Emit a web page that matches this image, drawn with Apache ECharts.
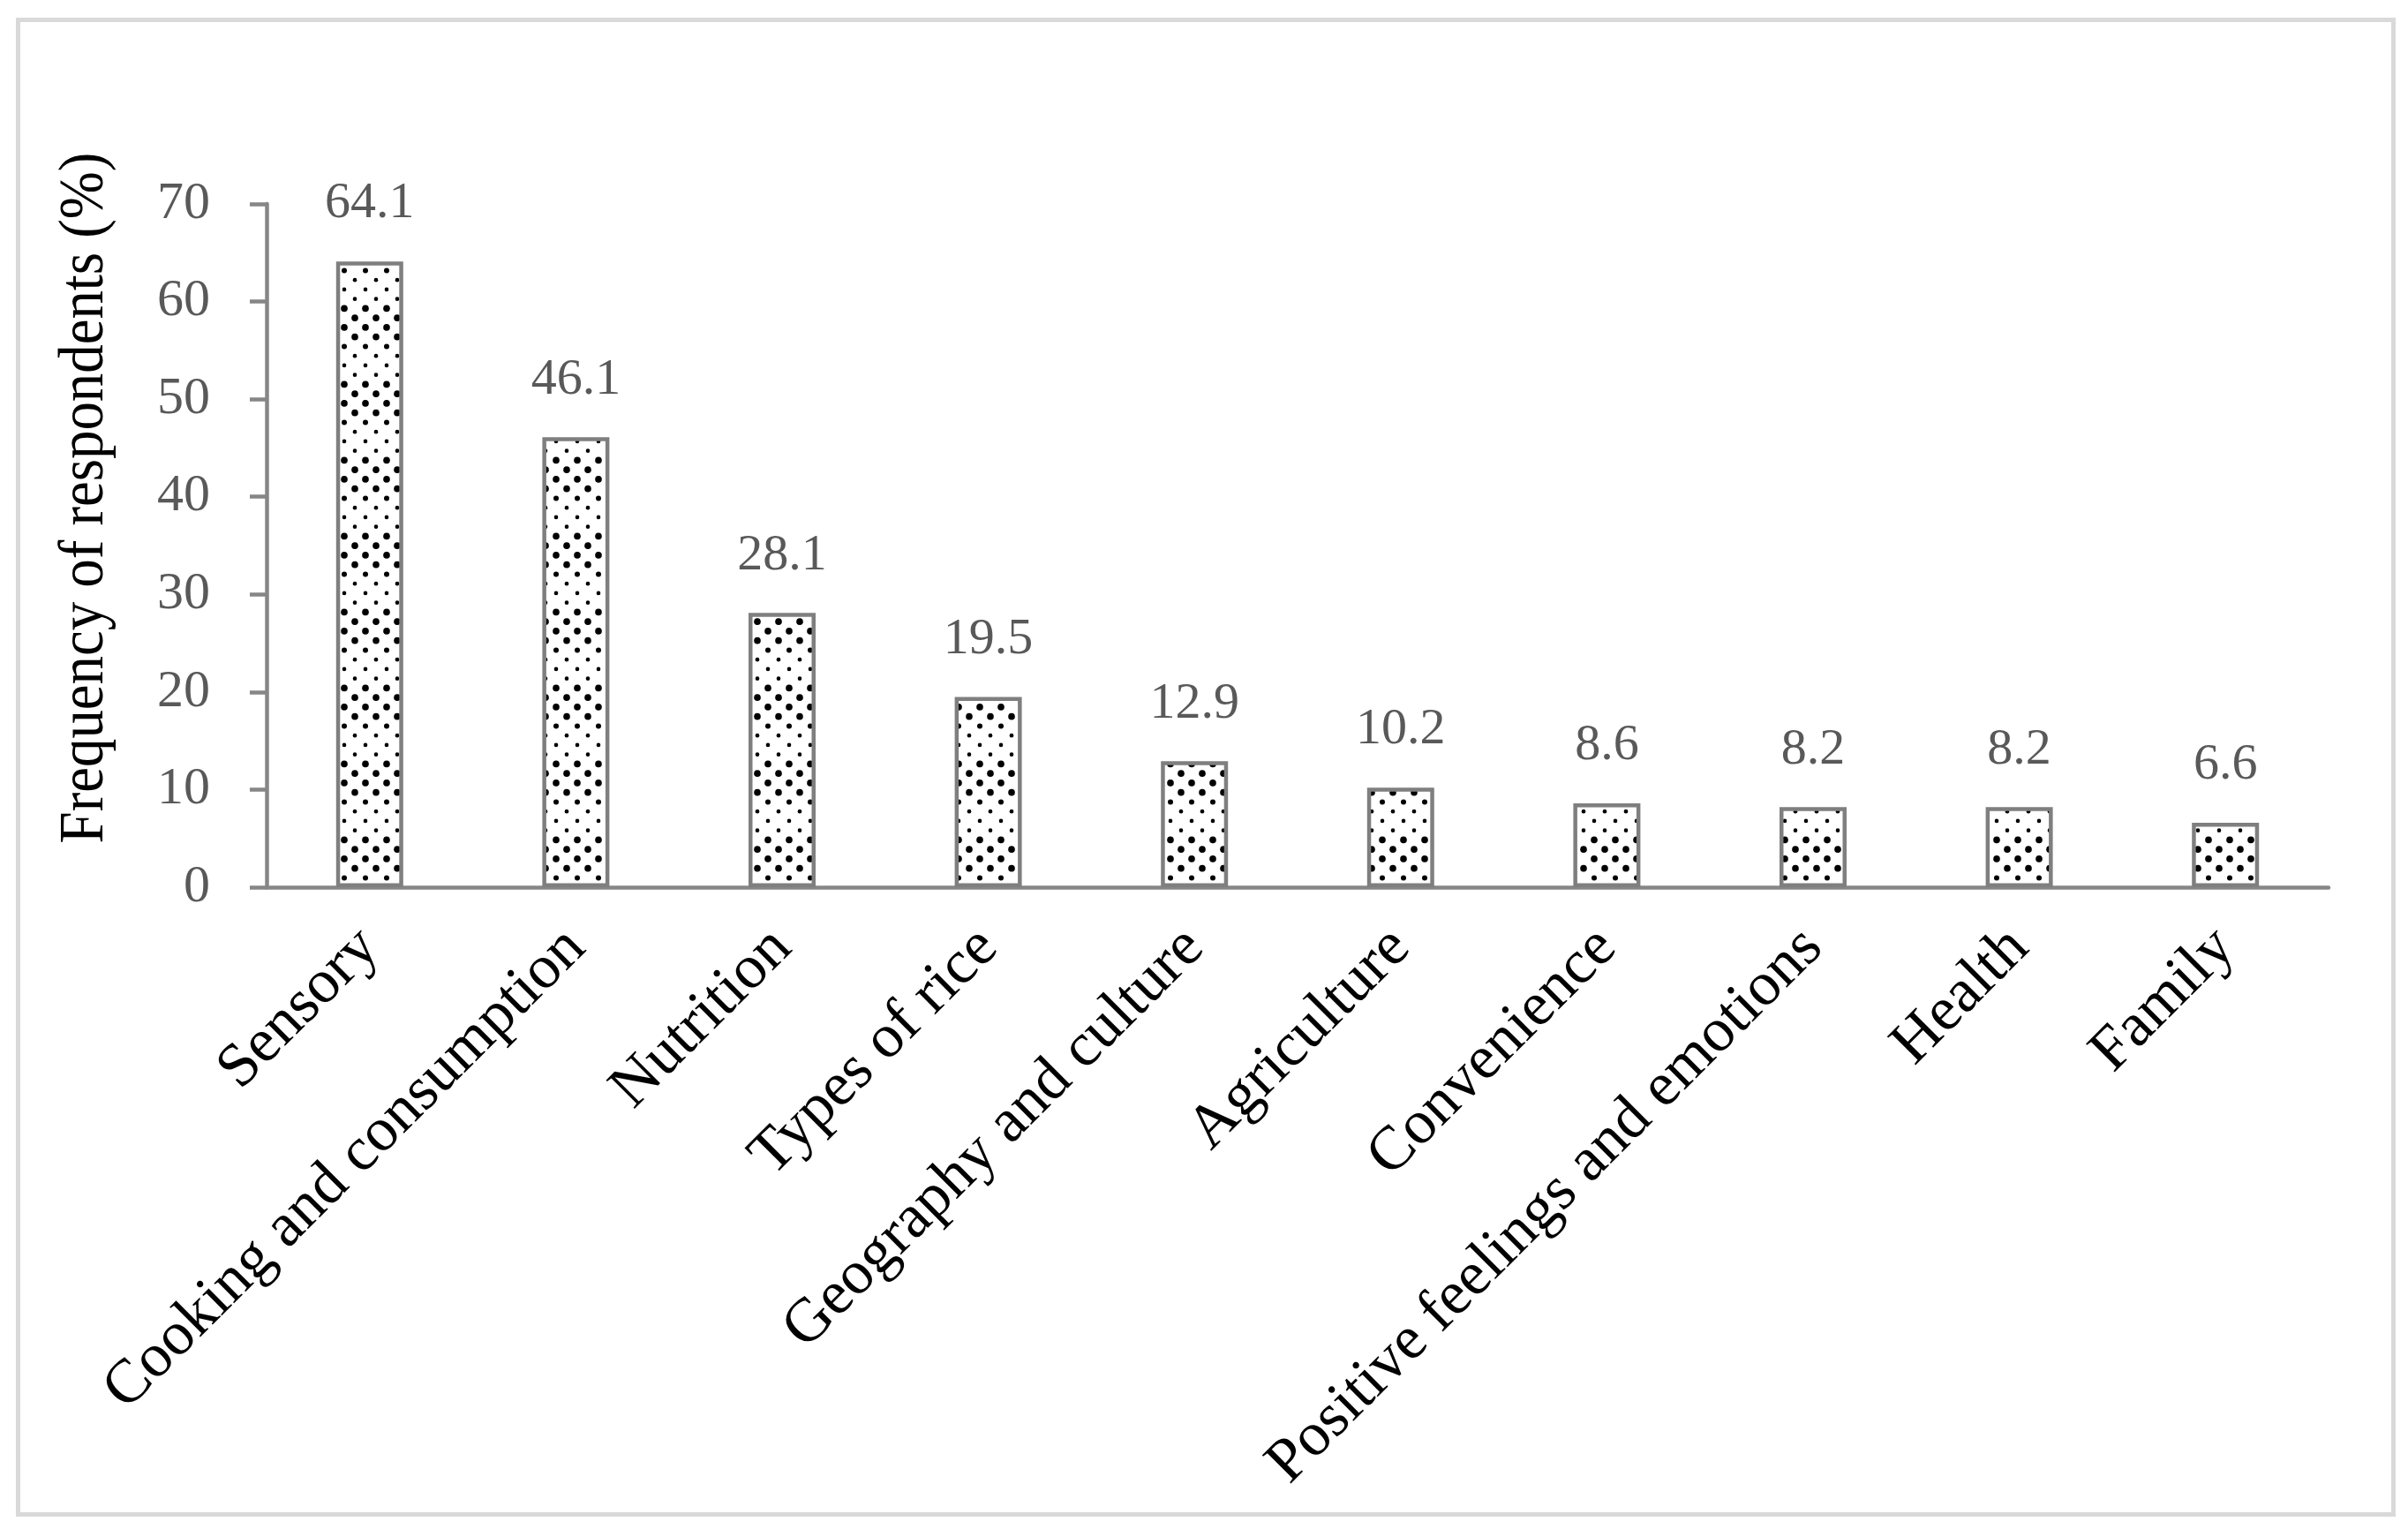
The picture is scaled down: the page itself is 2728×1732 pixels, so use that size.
<!DOCTYPE html>
<html>
<head>
<meta charset="utf-8">
<script src="https://cdn.jsdelivr.net/npm/echarts@6/dist/echarts.min.js"></script>
<style>
html,body{margin:0;padding:0;background:#fff;}
#chart{width:2728px;height:1732px;}
</style>
</head>
<body>
<div id="chart"></div>
<script>
const categories = ['Sensory','Cooking and consumption','Nutrition','Types of rice','Geography and culture','Agriculture','Convenience','Positive feelings and emotions','Health','Family'];
const values = [64.1,46.1,28.1,19.5,12.9,10.2,8.6,8.2,8.2,6.6];
const yMin = 0, yMax = 70, yInterval = 10;
const yTitle = 'Frequency of respondents (%)';

function makePattern(){
  const c = document.createElement('canvas');
  c.width = 24; c.height = 86;
  const g = c.getContext('2d');
  g.fillStyle = '#ffffff';
  g.fillRect(0,0,24,86);
  const radii = [3.8,3.8,3.8,3.8,3.0,2.3,2.3,2.3];
  g.fillStyle = '#000000';
  for (let k=0;k<8;k++){
    const y = 5.4 + k*10.75;
    const x = (k%2) ? 18 : 6;
    g.beginPath(); g.arc(x,y,radii[k],0,Math.PI*2); g.fill();
  }
  return c;
}

const font = 'Liberation Serif';
const axisColor = '#868686';
const chart = echarts.init(document.getElementById('chart'));
chart.setOption({
  animation:false,
  backgroundColor:'#ffffff',
  grid:{left:302,right:90,top:231,bottom:727},
  xAxis:{
    type:'category',
    data:categories,
    axisLine:{lineStyle:{color:axisColor,width:4.5}},
    axisTick:{show:false},
    axisLabel:{interval:0,rotate:45,color:'#000',fontFamily:font,fontSize:70,margin:58,padding:[56,0,0,0]}
  },
  yAxis:{
    type:'value',min:yMin,max:yMax,interval:yInterval,
    axisLine:{show:true,lineStyle:{color:axisColor,width:4.5}},
    axisTick:{show:true,length:19,lineStyle:{color:axisColor,width:4.5}},
    splitLine:{show:false},
    axisLabel:{color:'#595959',fontFamily:font,fontSize:60,margin:64}
  },
  graphic:[
    {type:'rect',left:18,top:20,shape:{width:2691,height:1693},style:{fill:'none',stroke:'#d9d9d9',lineWidth:5},silent:true},
    {type:'text',x:97,y:564,rotation:Math.PI/2,scaleX:0.9,style:{text:yTitle,fill:'#000',font:'72px "Liberation Serif"',align:'center',verticalAlign:'middle'}}
  ],
  series:[{
    type:'bar',
    data:values,
    barWidth:76,
    itemStyle:{color:{image:makePattern(),repeat:'repeat'},borderColor:'#7f7f7f',borderWidth:4.5},
    label:{show:true,position:'top',distance:36,color:'#595959',fontFamily:font,fontSize:58},
    emphasis:{disabled:true}
  }]
});
</script>
</body>
</html>
